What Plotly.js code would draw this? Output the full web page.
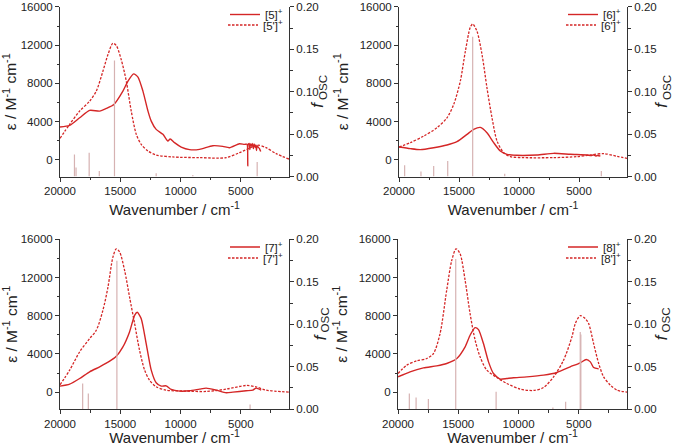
<!DOCTYPE html>
<html>
<head>
<meta charset="utf-8">
<script src="https://cdn.plot.ly/plotly-3.0.1.min.js"></script>
<style>html,body{margin:0;padding:0;background:#fff;}#chart{width:674px;height:446px;}</style>
</head>
<body>
<div id="chart"></div>
<script>
// ---------- DATA ----------
// Panel [5]
var wn5   = [20000,19200,18370,17540,16710,16160,15525,14780,14360,13890,13530,13120,12700,12430,12020,11460,11050,10860,10500,9945,9250,8420,7320,6490,5940,5110,4700,4500,4450,4420,4400,4300,4250,4200,4100,4050,3950,3900,3800,3750,3700,3650,3550,3450,3350];
var eps5  = [3416,3590,4390,5160,5090,5370,5790,7180,8230,8990,8650,7180,5090,4040,3170,2650,1950,2160,1780,1320,1050,1080,1460,1390,1250,1670,1600,1620,1500,-650,1550,1700,1050,1650,1400,1700,1150,1650,1300,1550,950,1450,1300,1150,850];
var wn5p  = [20000,19200,18370,17540,16990,16440,16020,15610,15330,14920,14500,14090,13670,13260,12700,12020,10640,8420,6210,5110,4000,3590,2900,2070,1000];
var eps5p = [2230,3700,5090,6130,7180,9270,11010,12200,11960,10490,8230,5090,2650,1600,906,488,280,210,210,730,1360,1530,1250,630,60];
var stickWn5 = [18800,18670,17580,16740,15480,12020,8980,3640];
var stickF5  = [0.026,0.0106,0.028,0.0067,0.137,0.004,0.002,0.0173];

// Panel [6]
var wn6   = [20000,19056,18220,17110,16000,15170,14330,13780,13220,12670,12110,11560,11000,10170,8500,7110,5720,4330,4000,3800,3600,3500,3220];
var eps6  = [1320,1150,1050,1250,1530,1880,2650,3170,3380,2820,1780,906,558,453,488,662,558,488,420,500,380,430,380];
var wn6p  = [20000,19056,17940,16830,16000,15440,14890,14470,14060,13860,13500,13080,12670,12250,11830,11280,10720,9610,7110,5170,4060,2940,1830,1000];
var eps6p = [1320,1780,2470,3350,4390,5790,8230,11360,13870,14220,13450,11010,7530,4390,1950,730,313,210,210,313,488,630,350,140];
var stickWn6 = [19530,18170,17110,15940,13860,11190,3140];
var stickF6  = [0.0133,0.0059,0.0125,0.0184,0.165,0.0035,0.0067];

// Panel [7]
var wn7   = [20000,19200,18370,17540,16710,15880,15330,14780,14230,13810,13590,13260,12850,12430,12020,11600,11190,10770,10080,9250,8420,7870,7040,6210,5660,4560,4000,3730,3310];
var eps7  = [627,837,1430,2130,2650,3240,3760,4740,6310,8050,8370,7700,5090,2300,976,627,662,279,105,140,314,418,209,-70,0,140,209,418,209];
var wn7p  = [20000,19200,18370,17540,16990,16440,16020,15610,15330,15050,14640,14230,13810,13400,12980,12570,12020,11190,9530,7870,6210,4560,3730,2900,1000];
var eps7p = [767,2300,4220,5610,6480,8580,11010,14150,15020,14680,12760,9970,7180,4390,2300,1250,558,209,105,70,314,697,558,209,0];
var stickWn7 = [18120,17650,15280,4230];
var stickF7  = [0.0302,0.0184,0.175,0.0055];

// Panel [8]
var wn8   = [20000,19000,17890,16790,15960,15120,14430,14020,13600,13320,12910,12490,12080,11520,10970,10420,9310,7920,6810,5710,4880,4380,4040,3770,3350];
var eps8  = [1600,2130,2540,2750,3000,3520,4740,5960,6760,6550,5090,3170,1950,1360,1430,1500,1600,1780,2060,2650,3070,3420,3170,2580,2440];
var wn8p  = [20000,19280,18450,17620,17060,16510,15960,15540,15180,14850,14430,14020,13600,13190,12630,11800,10970,9860,8750,7920,7090,6260,5570,5290,4880,4460,4180,3770,3350,2940,2380,1830,1000];
var eps8p = [1950,2820,3280,3520,4040,6130,10670,13800,15020,14500,11710,8230,5440,3700,2300,1530,906,314,174,488,1600,3350,5790,7180,8020,7700,7180,5090,3000,1600,732,209,0];
var stickWn8 = [19060,18500,17480,15210,11860,7150,6090,4880,4830];
var stickF8  = [0.0184,0.0137,0.0118,0.177,0.0204,0.002,0.0086,0.091,0.088];

var labels = [["[5]<sup>+</sup>","[5']<sup>+</sup>"],["[6]<sup>+</sup>","[6']<sup>+</sup>"],["[7]<sup>+</sup>","[7']<sup>+</sup>"],["[8]<sup>+</sup>","[8']<sup>+</sup>"]];
var xTickVals = [20000,15000,10000,5000];
var xTickText = ["20000","15000","10000","5000"];
var yTickVals = [0,4000,8000,12000,16000];
var yTickText = ["0","4000","8000","12000","16000"];
var fTickVals = [0,0.05,0.10,0.15,0.20];
var fTickText = ["0.00","0.05","0.10","0.15","0.20"];
var xTitle = "Wavenumber / cm<sup>-1</sup>";
var yTitle = "ε / M<sup>-1</sup> cm<sup>-1</sup>";
var fTitle = "<i>f</i><sub> OSC</sub>";

// ---------- BUILD ----------
var FONT = "Arial, 'Liberation Sans', sans-serif";
var RED = "#d42626";
var STICK = "rgb(214,178,178)";
var TXT = "#222";
var W = 674, H = 446;
var boxes = [
  {x0:60,  x1:289, y0:6,   y1:176, fx:318},
  {x0:399, x1:627, y0:6,   y1:176, fx:662},
  {x0:60,  x1:289, y0:239, y1:409, fx:321},
  {x0:398, x1:627, y0:239, y1:409, fx:662}
];
var solids = [[wn5,eps5],[wn6,eps6],[wn7,eps7],[wn8,eps8]];
var dashes = [[wn5p,eps5p],[wn6p,eps6p],[wn7p,eps7p],[wn8p,eps8p]];
var sticks = [[stickWn5,stickF5],[stickWn6,stickF6],[stickWn7,stickF7],[stickWn8,stickF8]];

var data = [];
var annotations = [];
var layout = {
  width: W, height: H,
  margin: {l:0, r:0, t:0, b:0},
  paper_bgcolor: "#fff", plot_bgcolor: "rgba(0,0,0,0)",
  font: {family: FONT, size: 11, color: TXT},
  showlegend: true
};

function legendName(n) { return n === 1 ? "legend" : "legend" + n; }

for (var i = 0; i < 4; i++) {
  var b = boxes[i];
  var xs = i === 0 ? "" : String(i + 1);
  var yl = String(2 * i + 1), yr = String(2 * i + 2);
  var yLname = yl === "1" ? "y" : "y" + yl;
  var yRname = "y" + yr;
  var xname = "x" + xs;
  var legA = legendName(2 * i + 1), legB = legendName(2 * i + 2);

  // sticks
  var sx = [], sy = [];
  for (var k = 0; k < sticks[i][0].length; k++) {
    sx.push(sticks[i][0][k], sticks[i][0][k], null);
    sy.push(0, sticks[i][1][k], null);
  }
  data.push({x: sx, y: sy, xaxis: xname, yaxis: yRname, mode: "lines",
    line: {color: STICK, width: 1.2}, showlegend: false, hoverinfo: "skip"});
  data.push({x: solids[i][0], y: solids[i][1], xaxis: xname, yaxis: yLname, mode: "lines",
    line: {color: RED, width: 1.4, shape: "spline", smoothing: 0.6}, name: labels[i][0], legend: legA});
  data.push({x: dashes[i][0], y: dashes[i][1], xaxis: xname, yaxis: yLname, mode: "lines",
    line: {color: RED, width: 1.3, dash: "2.5px,1.5px", shape: "spline", smoothing: 0.8}, name: labels[i][1], legend: legB});

  var axCommon = {showgrid: false, zeroline: false, showline: true, linecolor: "#333", linewidth: 1,
    ticks: "outside", ticklen: 4, tickcolor: "#333", tickwidth: 1, automargin: false,
    ticklabeloverflow: "allow",
    tickfont: {family: FONT, size: 11.5, color: TXT}};

  layout["xaxis" + xs] = Object.assign({}, axCommon, {
    domain: [b.x0 / W, b.x1 / W], anchor: yLname, range: [20000, 1000], autorange: false,
    tickvals: xTickVals, ticktext: xTickText,
    minor: {dtick: 2500, tick0: 0, ticks: "outside", ticklen: 2.5, tickcolor: "#333"},
    title: {text: xTitle, font: {family: FONT, size: 15, color: TXT}, standoff: 8}
  });
  layout["yaxis" + yl] = Object.assign({}, axCommon, {
    domain: [1 - b.y1 / H, 1 - b.y0 / H], anchor: xname, range: [-1778, 16000], autorange: false,
    tickvals: yTickVals, ticktext: yTickText,
    minor: {dtick: 2000, tick0: 0, ticks: "outside", ticklen: 2.5, tickcolor: "#333"},
    title: {text: yTitle, font: {family: FONT, size: 15.5, color: TXT}, standoff: 7}
  });
  layout["yaxis" + yr] = Object.assign({}, axCommon, {
    overlaying: yLname, side: "right", anchor: xname, range: [0, 0.2], autorange: false,
    tickvals: fTickVals, ticktext: fTickText,
    minor: {dtick: 0.025, tick0: 0, ticks: "outside", ticklen: 2.5, tickcolor: "#333"}
  });
  annotations.push({text: fTitle, xref: "paper", yref: "paper", x: b.fx / W, y: 1 - ((b.y0 + b.y1) / 2) / H,
    xanchor: "center", yanchor: "middle", textangle: -90, showarrow: false,
    font: {family: FONT, size: 16.5, color: TXT}});
  var legBase = {x: (b.x1 - 1) / W, xanchor: "right", yanchor: "middle",
    bgcolor: "rgba(0,0,0,0)", borderwidth: 0, font: {family: FONT, size: 11.5, color: TXT}, itemwidth: 30};
  layout[legA] = Object.assign({}, legBase, {y: 1 - (b.y0 + 8) / H});
  layout[legB] = Object.assign({}, legBase, {y: 1 - (b.y0 + 19) / H});
}
layout.annotations = annotations;

Plotly.newPlot("chart", data, layout, {staticPlot: true, displayModeBar: false});
</script>
</body>
</html>
